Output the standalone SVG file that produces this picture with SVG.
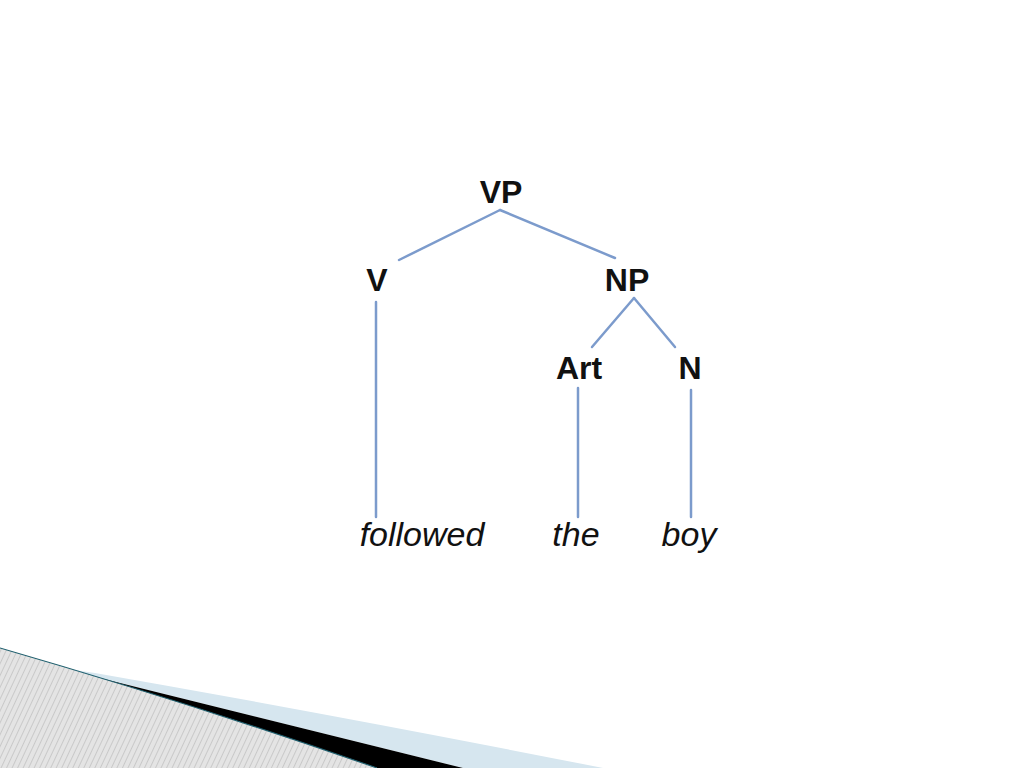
<svg xmlns="http://www.w3.org/2000/svg" width="1024" height="768" viewBox="0 0 1024 768">
<defs>
<style>
.lbl{font-family:"Liberation Sans",Arial,sans-serif;font-weight:bold;font-size:32px;fill:#111;text-anchor:middle}
.leaf{font-family:"Liberation Sans",Arial,sans-serif;font-style:italic;font-size:34px;fill:#111;text-anchor:middle}
.edge{stroke:#7c9bcc;stroke-width:2.5;fill:none;stroke-linecap:round}
</style>
<pattern id="hatch" patternUnits="userSpaceOnUse" width="5" height="5" patternTransform="rotate(25)">
<rect width="5" height="5" fill="#e4e4e4"/>
<line x1="0" y1="0" x2="0" y2="5" stroke="#b8b8b8" stroke-width="1.2"/>
</pattern>
</defs>
<rect width="1024" height="768" fill="#ffffff"/>
<g id="decoration">
<path d="M95,673 Q340,716 603,768 L463,768 Q260,718 60,668 Z" fill="#d6e6ef"/>
<path d="M60,668 Q260,718 463,768 L377,768 Q190,703 60,668 Z" fill="#000000"/>
<path d="M0,648 Q190,703 377,768 L0,768 Z" fill="url(#hatch)"/>
<path d="M0,648 Q190,703 377,768" fill="none" stroke="#1f5f6e" stroke-width="1.2"/>
</g>
<g id="connectors">
<line class="edge" x1="500" y1="210" x2="399" y2="260"/>
<line class="edge" x1="500" y1="210" x2="615" y2="258"/>
<line class="edge" x1="634" y1="298" x2="592" y2="347"/>
<line class="edge" x1="634" y1="298" x2="675" y2="347"/>
<line class="edge" x1="376" y1="302" x2="376" y2="517"/>
<line class="edge" x1="578" y1="388" x2="578" y2="517"/>
<line class="edge" x1="691" y1="390" x2="691" y2="517"/>
</g>
<g id="node-VP"><text class="lbl" x="501" y="203">VP</text></g>
<g id="node-V"><text class="lbl" x="377" y="291">V</text></g>
<g id="node-NP"><text class="lbl" x="627" y="291">NP</text></g>
<g id="node-Art"><text class="lbl" x="579" y="379">Art</text></g>
<g id="node-N"><text class="lbl" x="690" y="379">N</text></g>
<g id="node-followed"><text class="leaf" x="422" y="546">followed</text></g>
<g id="node-the"><text class="leaf" x="576" y="546">the</text></g>
<g id="node-boy"><text class="leaf" x="689" y="546">boy</text></g>
</svg>
